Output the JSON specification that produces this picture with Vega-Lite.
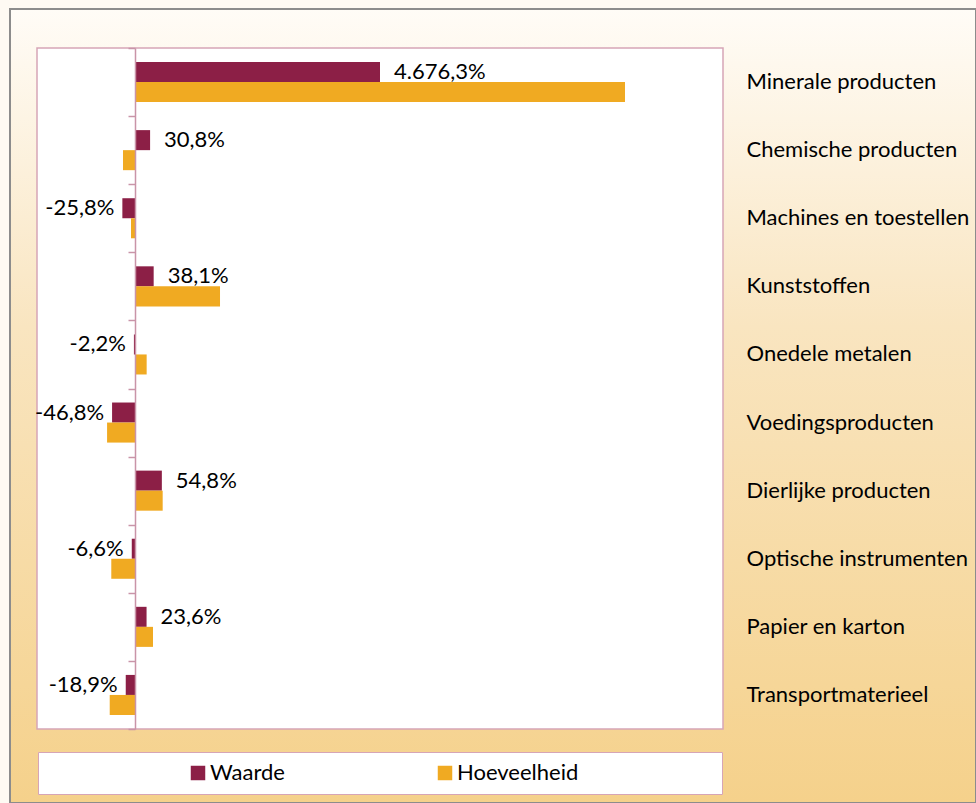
{
  "$schema": "https://vega.github.io/schema/vega-lite/v6.json",
  "width": 966,
  "height": 794,
  "autosize": {"type": "none"},
  "padding": {"left": 10, "top": 9, "right": 0, "bottom": 0},
  "background": "#fefaf3",
  "config": {
    "view": {
      "fill": {"gradient": "linear", "x1": 0, "y1": 0, "x2": 0, "y2": 1,
        "stops": [{"offset": 0, "color": "#fffcf7"}, {"offset": 0.4, "color": "#f9e5c0"}, {"offset": 1, "color": "#f5d18b"}]},
      "stroke": "#8c8c8c",
      "strokeWidth": 2
    },
    "font": "Lato"
  },
  "data": {
    "values": [
      {"category": "Minerale producten", "series": "Waarde", "value": 500, "label": "4.676,3%"},
      {"category": "Minerale producten", "series": "Hoeveelheid", "value": 1000, "label": ""},
      {"category": "Chemische producten", "series": "Waarde", "value": 30.8, "label": "30,8%"},
      {"category": "Chemische producten", "series": "Hoeveelheid", "value": -24.5, "label": ""},
      {"category": "Machines en toestellen", "series": "Waarde", "value": -25.8, "label": "-25,8%"},
      {"category": "Machines en toestellen", "series": "Hoeveelheid", "value": -8.2, "label": ""},
      {"category": "Kunststoffen", "series": "Waarde", "value": 38.1, "label": "38,1%"},
      {"category": "Kunststoffen", "series": "Hoeveelheid", "value": 173.5, "label": ""},
      {"category": "Onedele metalen", "series": "Waarde", "value": -2.2, "label": "-2,2%"},
      {"category": "Onedele metalen", "series": "Hoeveelheid", "value": 23.8, "label": ""},
      {"category": "Voedingsproducten", "series": "Waarde", "value": -46.8, "label": "-46,8%"},
      {"category": "Voedingsproducten", "series": "Hoeveelheid", "value": -57, "label": ""},
      {"category": "Dierlijke producten", "series": "Waarde", "value": 54.8, "label": "54,8%"},
      {"category": "Dierlijke producten", "series": "Hoeveelheid", "value": 56.5, "label": ""},
      {"category": "Optische instrumenten", "series": "Waarde", "value": -6.6, "label": "-6,6%"},
      {"category": "Optische instrumenten", "series": "Hoeveelheid", "value": -48.4, "label": ""},
      {"category": "Papier en karton", "series": "Waarde", "value": 23.6, "label": "23,6%"},
      {"category": "Papier en karton", "series": "Hoeveelheid", "value": 36.7, "label": ""},
      {"category": "Transportmaterieel", "series": "Waarde", "value": -18.9, "label": "-18,9%"},
      {"category": "Transportmaterieel", "series": "Hoeveelheid", "value": -51.6, "label": ""}
    ]
  },
  "resolve": {"axis": {"y": "independent"}},
  "layer": [
    {
      "data": {"values": [{}]},
      "mark": {"type": "rect", "fill": "white", "stroke": "#d6a5b6", "strokeWidth": 1.5},
      "encoding": {
        "x": {"datum": -200, "type": "quantitative", "scale": {"domain": [-200, 1200], "range": [27, 713], "nice": false, "zero": false}, "axis": null},
        "x2": {"datum": 1200},
        "y": {"datum": "Minerale producten", "type": "nominal", "bandPosition": 0, "axis": null,
          "scale": {"domain": ["Minerale producten", "Chemische producten", "Machines en toestellen", "Kunststoffen", "Onedele metalen", "Voedingsproducten", "Dierlijke producten", "Optische instrumenten", "Papier en karton", "Transportmaterieel"], "range": [39, 720], "paddingInner": 0, "paddingOuter": 0}},
        "y2": {"datum": "Transportmaterieel", "bandPosition": 1}
      }
    },
    {
      "mark": {"type": "bar"},
      "encoding": {
        "y": {"field": "category", "type": "nominal", "sort": null,
          "scale": {"domain": ["Minerale producten", "Chemische producten", "Machines en toestellen", "Kunststoffen", "Onedele metalen", "Voedingsproducten", "Dierlijke producten", "Optische instrumenten", "Papier en karton", "Transportmaterieel"], "range": [39, 720], "paddingInner": 0, "paddingOuter": 0},
          "axis": {"orient": "left", "offset": -125, "labels": false, "ticks": true, "tickBand": "extent", "tickSize": 7, "tickColor": "#c994a8", "tickWidth": 1.5, "domainColor": "#c994a8", "domainWidth": 1.5, "title": null, "grid": false, "zindex": 1}},
        "yOffset": {"field": "series", "type": "nominal", "sort": ["Waarde", "Hoeveelheid"], "scale": {"domain": ["Waarde", "Hoeveelheid"], "paddingInner": 0, "paddingOuter": 0.7}},
        "x": {"field": "value", "type": "quantitative", "axis": null},
        "color": {"field": "series", "type": "nominal", "sort": ["Waarde", "Hoeveelheid"],
          "scale": {"domain": ["Waarde", "Hoeveelheid"], "range": ["#8c1f46", "#f0aa22"]},
          "legend": {"orient": "none", "legendX": 28, "legendY": 743, "direction": "horizontal", "title": " ", "titleOrient": "right", "titlePadding": 134, "fillColor": "white", "strokeColor": "#d6a5b6", "padding": 10, "symbolType": "square", "symbolSize": 210, "symbolOffset": 139, "columnPadding": 10, "labelFontSize": 22, "labelFont": "Lato", "labelColor": "#000000", "labelOffset": 1, "symbolStrokeWidth": 0, "symbolOpacity": 1}}
      }
    },
    {
      "transform": [{"filter": "datum.series == 'Waarde' && datum.value >= 0"}],
      "mark": {"type": "text", "align": "left", "baseline": "middle", "dx": 14, "fontSize": 22, "font": "Lato", "color": "#000000"},
      "encoding": {
        "y": {"field": "category", "type": "nominal", "sort": null,
          "axis": {"orient": "right", "offset": -230, "ticks": false, "tickSize": 0, "domain": false, "labelPadding": 0, "labelAlign": "left", "labelFontSize": 22, "labelFont": "Lato", "labelColor": "#000000", "labelLimit": 400, "title": null, "grid": false}},
        "yOffset": {"field": "series", "type": "nominal", "scale": {"domain": ["Waarde", "Hoeveelheid"], "paddingInner": 0, "paddingOuter": 0.7}},
        "x": {"field": "value", "type": "quantitative", "axis": null},
        "text": {"field": "label"}
      }
    },
    {
      "transform": [{"filter": "datum.series == 'Waarde' && datum.value < 0"}],
      "mark": {"type": "text", "align": "right", "baseline": "middle", "dx": -8, "fontSize": 22, "font": "Lato", "color": "#000000"},
      "encoding": {
        "y": {"field": "category", "type": "nominal", "sort": null, "axis": null},
        "yOffset": {"field": "series", "type": "nominal", "scale": {"domain": ["Waarde", "Hoeveelheid"], "paddingInner": 0, "paddingOuter": 0.7}},
        "x": {"field": "value", "type": "quantitative", "axis": null},
        "text": {"field": "label"}
      }
    }
  ]
}
